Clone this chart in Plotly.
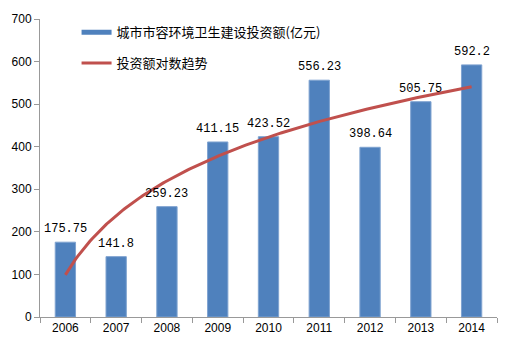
import numpy as np
import plotly.graph_objects as go

years = ["2006", "2007", "2008", "2009", "2010", "2011", "2012", "2013", "2014"]
invest = [175.75, 141.8, 259.23, 411.15, 423.52, 556.23, 398.64, 505.75, 592.2]
labels = ["175.75", "141.8", "259.23", "411.15", "423.52", "556.23", "398.64", "505.75", "592.2"]
bar_name = "城市市容环境卫生建设投资额(亿元)"
trend_name = "投资额对数趋势"

xs = np.arange(1, len(years) + 1)
a, b = np.polyfit(np.log(xs), np.array(invest), 1)
tx = np.linspace(1, len(years), 200)
ty = a * np.log(tx) + b

blue = "#4F81BD"
red = "#C0504D"

fig = go.Figure()
fig.add_trace(go.Bar(
    x=xs, y=invest, width=0.4, marker=dict(color=blue, line=dict(color="#7FA3D0", width=1)),
    showlegend=False,
))
fig.add_trace(go.Scatter(
    x=tx, y=ty, mode="lines", line=dict(color=red, width=3), name=trend_name,
    legend="legend2",
))
fig.add_trace(go.Scatter(
    x=[None], y=[None], mode="lines", line=dict(color=blue, width=5), name=bar_name,
    legend="legend",
))
for xv, yv, lab in zip(xs, invest, labels):
    fig.add_annotation(x=xv, y=yv, text=lab, showarrow=False, yanchor="bottom",
                       yshift=4, xref="x", yref="y",
                       font=dict(family="Liberation Mono", size=12, color="#000"))

legfont = dict(family="Noto Sans CJK SC", size=13, color="#000")
fig.update_layout(
    width=510, height=347,
    margin=dict(l=39, r=13, t=12, b=30),
    paper_bgcolor="white", plot_bgcolor="white",
    bargap=0.6,
    legend=dict(x=0.08, y=0.955, xanchor="left", yanchor="middle", font=legfont,
                bgcolor="rgba(0,0,0,0)", itemwidth=30),
    legend2=dict(x=0.08, y=0.852, xanchor="left", yanchor="middle", font=legfont,
                 bgcolor="rgba(0,0,0,0)", itemwidth=30),
    xaxis=dict(
        range=[0.5, 9.5], tickvals=list(xs), ticktext=years, ticks="",
        showgrid=False, zeroline=False, showline=True, linecolor="#999", linewidth=1,
        tickfont=dict(family="Liberation Sans", size=12, color="#000"),
        minor=dict(tickvals=[i + 0.5 for i in range(0, len(years) + 1)], ticks="outside",
                   ticklen=5, tickcolor="#999", showgrid=False),
    ),
    yaxis=dict(
        range=[0, 700], dtick=100, ticks="outside", ticklen=5, tickcolor="#999",
        showgrid=False, zeroline=False, showline=True, linecolor="#999", linewidth=1,
        tickfont=dict(family="Liberation Sans", size=12, color="#000"),
    ),
)
fig.write_html("out.html")
